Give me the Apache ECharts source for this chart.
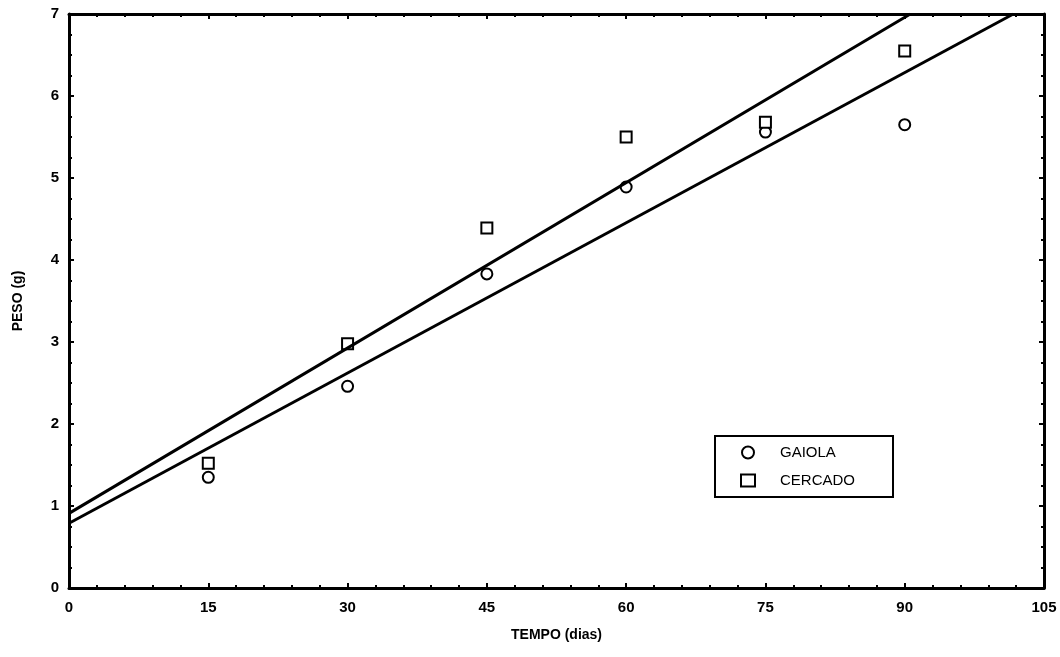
<!DOCTYPE html>
<html>
<head>
<meta charset="utf-8">
<script src="https://cdn.jsdelivr.net/npm/echarts@6/dist/echarts.min.js"></script>
<style>
  html, body { margin: 0; padding: 0; background: #fff; }
  #chart { width: 1060px; height: 657px; }
</style>
</head>
<body>
<div id="chart"></div>
<script>
// dados
var dias = [15, 30, 45, 60, 75, 90];
var gaiola = [1.35, 2.46, 3.83, 4.89, 5.56, 5.65];
var cercado = [1.52, 2.98, 4.39, 5.50, 5.68, 6.55];
// retas ajustadas (extremos)
var retaCercado = [[0, 0.91], [90.6, 7]];
var retaGaiola = [[0, 0.79], [101.7, 7]];

var font = 'Liberation Sans, Arial, sans-serif';
var chart = echarts.init(document.getElementById('chart'));

function pares(xs, ys) {
  return xs.map(function (x, i) { return [x, ys[i]]; });
}

var axisBase = {
  axisLine: { show: true, onZero: false, lineStyle: { color: '#000', width: 3 } },
  axisTick: { show: true, inside: true, length: 5, lineStyle: { color: '#000', width: 2 } },
  minorTick: { show: true, length: 3, lineStyle: { color: '#000', width: 2 } },
  splitLine: { show: false }
};

chart.setOption({
  animation: false,
  backgroundColor: '#fff',
  grid: { left: 69, right: 16, top: 14, bottom: 69 },
  legend: {
    data: ['GAIOLA', 'CERCADO'],
    orient: 'vertical',
    left: 715, top: 436,
    padding: [9, 38, 9, 25],
    itemGap: 13,
    itemWidth: 14, itemHeight: 12,
    borderColor: '#000', borderWidth: 2, borderRadius: 0,
    textStyle: { fontFamily: font, fontSize: 15, color: '#000', padding: [0, 0, 0, 20] }
  },
  xAxis: [
    Object.assign({}, axisBase, {
      type: 'value', min: 0, max: 105, interval: 15,
      minorTick: Object.assign({}, axisBase.minorTick, { splitNumber: 5 }),
      position: 'bottom',
      name: 'TEMPO (dias)', nameLocation: 'middle', nameGap: 40,
      nameTextStyle: { fontFamily: font, fontSize: 14, fontWeight: 'bold', color: '#000' },
      axisLabel: { margin: 12, fontFamily: font, fontSize: 15, fontWeight: 'bold', color: '#000' }
    }),
    Object.assign({}, axisBase, {
      type: 'value', min: 0, max: 105, interval: 15,
      minorTick: Object.assign({}, axisBase.minorTick, { splitNumber: 5 }),
      position: 'top', axisLabel: { show: false }
    })
  ],
  yAxis: [
    Object.assign({}, axisBase, {
      type: 'value', min: 0, max: 7, interval: 1,
      minorTick: Object.assign({}, axisBase.minorTick, { splitNumber: 4 }),
      position: 'left',
      name: 'PESO (g)', nameLocation: 'middle', nameGap: 44, nameRotate: 90,
      nameTextStyle: { fontFamily: font, fontSize: 14, fontWeight: 'bold', color: '#000' },
      axisLabel: { margin: 10, fontFamily: font, fontSize: 15, fontWeight: 'bold', color: '#000' }
    }),
    Object.assign({}, axisBase, {
      type: 'value', min: 0, max: 7, interval: 1,
      minorTick: Object.assign({}, axisBase.minorTick, { splitNumber: 4 }),
      position: 'right', axisLabel: { show: false }
    })
  ],
  series: [
    {
      name: 'retaCercado', type: 'line', data: retaCercado,
      symbol: 'none', clip: true, silent: true,
      lineStyle: { color: '#000', width: 3 }
    },
    {
      name: 'retaGaiola', type: 'line', data: retaGaiola,
      symbol: 'none', clip: true, silent: true,
      lineStyle: { color: '#000', width: 3 }
    },
    {
      name: 'GAIOLA', type: 'scatter', data: pares(dias, gaiola),
      symbol: 'circle', symbolSize: 11,
      itemStyle: { color: '#fff', borderColor: '#000', borderWidth: 2, opacity: 1 }
    },
    {
      name: 'CERCADO', type: 'scatter', data: pares(dias, cercado),
      symbol: 'rect', symbolSize: 11,
      itemStyle: { color: '#fff', borderColor: '#000', borderWidth: 2, opacity: 1 }
    }
  ]
});
</script>
</body>
</html>
